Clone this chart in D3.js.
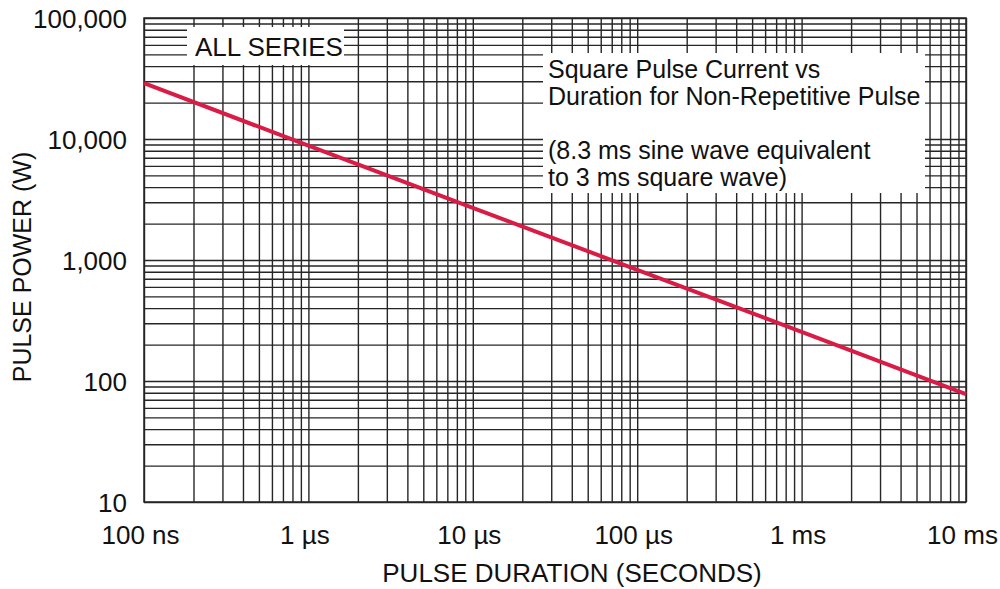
<!DOCTYPE html>
<html>
<head>
<meta charset="utf-8">
<script src="https://cdn.jsdelivr.net/npm/d3@7"></script>
<style>
  body { margin: 0; background: #fff; }
  svg text { font-family: Arial, "Liberation Sans", sans-serif; fill: #111; }
</style>
</head>
<body>
<div id="chart"></div>
<script>
// pulse duration (s) vs pulse power (W)
const durations = [1e-7, 1e-6, 1e-5, 1e-4, 1e-3, 1e-2];
const powers = [29000, 8800, 2700, 830, 255, 78];

const xTickValues = [1e-7, 1e-6, 1e-5, 1e-4, 1e-3, 1e-2];
const xTickLabels = ["100 ns", "1 \u00b5s", "10 \u00b5s", "100 \u00b5s", "1 ms", "10 ms"];
const yTickValues = [10, 100, 1000, 10000, 100000];
const yTickLabels = ["10", "100", "1,000", "10,000", "100,000"];

const seriesLabel = "ALL SERIES";
const noteLines = ["Square Pulse Current vs", "Duration for Non-Repetitive Pulse", "", "(8.3 ms sine wave equivalent", "to 3 ms square wave)"];

const margin = {top: 18, right: 34, bottom: 87, left: 144};
const width = 1000 - margin.left - margin.right;
const height = 589 - margin.top - margin.bottom;

const svg = d3.select("#chart").append("svg")
    .attr("width", 1000)
    .attr("height", 589)
  .append("g")
    .attr("transform", "translate(" + margin.left + "," + margin.top + ")");

const x = d3.scaleLog().domain([1e-7, 1e-2]).range([0, width]);
const y = d3.scaleLog().domain([10, 100000]).range([height, 0]);

// every 1..9 line per decade
function gridValues(lo, hi) {
  let vals = [];
  for (let p = lo; p < hi; p *= 10) {
    for (let k = 1; k <= 9; k++) vals.push(p * k);
  }
  vals.push(hi);
  return vals;
}

const gridColor = "#262626";

const xGrid = svg.append("g")
    .attr("transform", "translate(0," + height + ")")
    .call(d3.axisBottom(x).tickValues(gridValues(1e-7, 1e-2)).tickSize(-height).tickFormat(""));
xGrid.select(".domain").remove();
xGrid.selectAll("line").attr("stroke", gridColor).attr("stroke-width", 1.4);

const yGrid = svg.append("g")
    .call(d3.axisLeft(y).tickValues(gridValues(10, 100000)).tickSize(-width).tickFormat(""));
yGrid.select(".domain").remove();
yGrid.selectAll("line").attr("stroke", gridColor).attr("stroke-width", 1.4);

svg.append("rect")
    .attr("width", width)
    .attr("height", height)
    .attr("fill", "none")
    .attr("stroke", gridColor)
    .attr("stroke-width", 1.5);

// white label boxes sitting on the grid
svg.append("rect")
    .attr("x", 43).attr("y", 9)
    .attr("width", 157).attr("height", 38)
    .attr("fill", "#fff");
svg.append("text")
    .attr("x", 51).attr("y", 38)
    .style("font-size", "26px")
    .text(seriesLabel);

svg.append("rect")
    .attr("x", 399).attr("y", 35)
    .attr("width", 382).attr("height", 140)
    .attr("fill", "#fff");
svg.append("g").selectAll("text")
    .data(noteLines)
    .enter().append("text")
    .attr("x", 404)
    .attr("y", function(d, i) { return 60 + i * 27; })
    .style("font-size", "25px")
    .text(function(d) { return d; });

// curve
const line = d3.line()
    .x(function(d) { return x(d[0]); })
    .y(function(d) { return y(d[1]); });

svg.append("path")
    .datum(d3.zip(durations, powers))
    .attr("d", line)
    .attr("fill", "none")
    .attr("stroke", "#d91c46")
    .attr("stroke-width", 4);

// tick labels
const xAxis = svg.append("g")
    .attr("transform", "translate(0," + height + ")")
    .call(d3.axisBottom(x).tickValues(xTickValues).tickSize(0).tickPadding(24)
      .tickFormat(function(d, i) { return xTickLabels[i]; }));
xAxis.select(".domain").remove();
xAxis.selectAll("text")
    .attr("dx", -4)
    .style("font-size", "26px")
    .style("font-family", "Arial, 'Liberation Sans', sans-serif")
    .attr("fill", "#111");

const yAxis = svg.append("g")
    .call(d3.axisLeft(y).tickValues(yTickValues).tickSize(0).tickPadding(17)
      .tickFormat(function(d, i) { return yTickLabels[i]; }));
yAxis.select(".domain").remove();
yAxis.selectAll("text")
    .attr("dy", "0.36em")
    .style("font-size", "26px")
    .style("font-family", "Arial, 'Liberation Sans', sans-serif")
    .attr("fill", "#111");

// axis titles
svg.append("text")
    .attr("x", 428)
    .attr("y", height + 80)
    .style("text-anchor", "middle")
    .style("font-size", "26px")
    .text("PULSE DURATION (SECONDS)");

svg.append("text")
    .attr("transform", "rotate(-90)")
    .attr("x", -249)
    .attr("y", -113)
    .style("text-anchor", "middle")
    .style("font-size", "25px")
    .text("PULSE POWER (W)");
</script>
</body>
</html>
